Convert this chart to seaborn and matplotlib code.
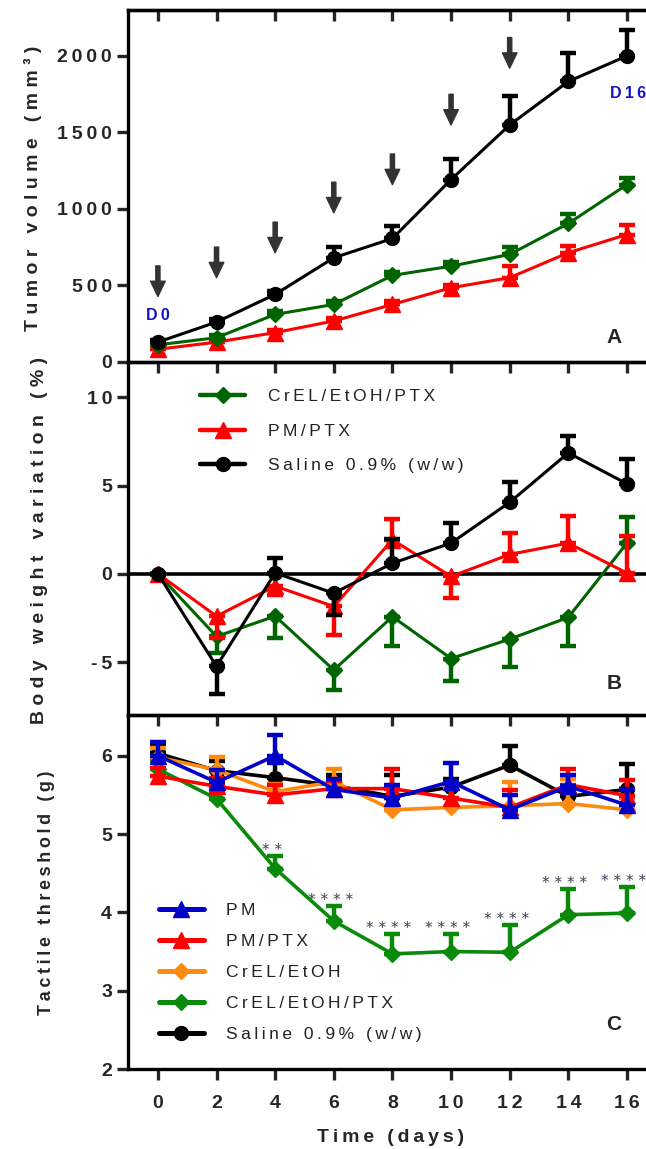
import numpy as np
import pandas as pd
import matplotlib
matplotlib.use("Agg")
import matplotlib.pyplot as plt
import seaborn as sns
from matplotlib.lines import Line2D

sns.set_style("ticks")
plt.rcParams["font.family"] = ["Liberation Sans", "DejaVu Sans"]

# ---------------- data ----------------
days = [0, 2, 4, 6, 8, 10, 12, 14, 16]
x_tick_labels = ["0", "2", "4", "6", "8", "10", "12", "14", "16"]

# Panel A: tumor volume (mm3), error bars upward
tv_crel_ptx = [112, 159, 311, 376, 566, 626, 703, 905, 1159]
tv_crel_ptx_err = [10, 15, 20, 20, 25, 25, 50, 60, 45]
tv_pm_ptx = [83, 130, 192, 268, 376, 485, 551, 714, 833]
tv_pm_ptx_err = [10, 15, 20, 20, 25, 20, 75, 43, 65]
tv_saline = [130, 261, 442, 681, 807, 1192, 1549, 1833, 2000]
tv_saline_err = [15, 20, 20, 72, 80, 135, 186, 185, 170]
dose_days = [0, 2, 4, 6, 8, 10, 12]
dose_arrow_tip = [428, 551, 714, 975, 1159, 1549, 1920]
a_yticks = [0, 500, 1000, 1500, 2000]

# Panel B: body weight variation (%), signed error (negative = drawn downward)
bw_crel_ptx = [0, -3.55, -2.4, -5.45, -2.43, -4.8, -3.7, -2.47, 1.74]
bw_crel_ptx_err = [0, -0.95, -1.25, -1.15, -1.67, -1.3, -1.6, -1.63, 1.46]
bw_pm_ptx = [0, -2.4, -0.7, -1.85, 1.93, -0.15, 1.1, 1.74, 0.04]
bw_pm_ptx_err = [0, -1.25, -0.5, -1.6, 1.15, -1.23, 1.23, 1.56, 2.1]
bw_saline = [0, -5.24, 0.05, -1.1, 0.6, 1.74, 4.05, 6.85, 5.1]
bw_saline_err = [0, -1.56, 0.85, -1.23, 1.4, 1.16, 1.15, 0.95, 1.4]
b_yticks = [-5, 0, 5, 10]

# Panel C: tactile threshold (g), error bars upward
tt_pm = [6.0, 5.66, 6.0, 5.57, 5.46, 5.67, 5.31, 5.61, 5.37]
tt_pm_err = [0.18, 0.16, 0.27, 0.13, 0.16, 0.24, 0.19, 0.15, 0.20]
tt_pm_ptx = [5.74, 5.61, 5.50, 5.58, 5.58, 5.46, 5.34, 5.63, 5.49]
tt_pm_ptx_err = [0.10, 0.10, 0.12, 0.10, 0.25, 0.21, 0.22, 0.20, 0.20]
tt_crel = [5.98, 5.82, 5.54, 5.67, 5.31, 5.34, 5.36, 5.39, 5.31]
tt_crel_err = [0.12, 0.17, 0.10, 0.16, 0.15, 0.25, 0.30, 0.31, 0.15]
tt_crel_ptx = [5.83, 5.45, 4.56, 3.89, 3.47, 3.50, 3.49, 3.97, 3.99]
tt_crel_ptx_err = [0.10, 0.10, 0.16, 0.19, 0.25, 0.22, 0.35, 0.33, 0.33]
tt_saline = [6.03, 5.81, 5.72, 5.62, 5.48, 5.60, 5.88, 5.48, 5.57]
tt_saline_err = [0.10, 0.12, 0.20, 0.14, 0.28, 0.10, 0.24, 0.10, 0.32]
tt_signif = ["", "", "**", "****", "****", "****", "****", "****", "****"]
c_yticks = [2, 3, 4, 5, 6]

lbl_crel_ptx = "CrEL/EtOH/PTX"
lbl_pm_ptx = "PM/PTX"
lbl_saline = "Saline 0.9% (w/w)"
lbl_pm = "PM"
lbl_crel = "CrEL/EtOH"

# ---------------- style ----------------
GREEN_A = "#006400"
GREEN_C = "#0a8a0a"
RED = "#ff0000"
BLACK = "#000000"
BLUE = "#0000c8"
ORANGE = "#ff8a10"
MS = {"o": 10, "^": 12, "D": 8.5}

TS = "\u2009"  # thin space used for letter tracking


def track(s, gap=TS):
    return gap.join(list(s))


def signed_to_yerr(e):
    lo = [-v if v < 0 else 0 for v in e]
    up = [v if v > 0 else 0 for v in e]
    return [lo, up]


def series(ax, y, err, color, marker, label, lw=2.2, z=3, signed=False):
    yerr = signed_to_yerr(err) if signed else [[0] * len(err), err]
    ax.errorbar(days, y, yerr=yerr, fmt="none", ecolor=color,
                elinewidth=3.2, capsize=5.5, capthick=3.2, zorder=z)
    sns.lineplot(x=days, y=y, ax=ax, color=color, marker=marker,
                 markersize=MS[marker], markeredgecolor=color,
                 markeredgewidth=1, linewidth=lw, label=label, zorder=z + 0.5,
                 legend=False)
    return Line2D([], [], color=color, marker=marker, markersize=MS[marker],
                  markeredgecolor=color, lw=lw + 1)


W, H = 646, 1149
fig = plt.figure(figsize=(W / 100, H / 100), dpi=100)
fig.patch.set_facecolor("white")

left = 128 / W
width = 1 - left


def box(top_px, bot_px):
    return [left, 1 - bot_px / H, width, (bot_px - top_px) / H]


axA = fig.add_axes(box(10, 362))
axB = fig.add_axes(box(362, 715))
axC = fig.add_axes(box(715, 1069))

XLIM = (-1.02, 16.65)
tick_font = dict(fontsize=14, fontweight="bold")

for ax in (axA, axB, axC):
    ax.set_facecolor("none")
    ax.set_xlim(*XLIM)
    for s in ("left", "top", "bottom"):
        ax.spines[s].set_linewidth(2.4)
        ax.spines[s].set_color("black")
    ax.spines["right"].set_visible(False)
    ax.set_xticks(days)
    ax.tick_params(axis="both", direction="out", length=8, width=2.4,
                   top=False, right=False)
    ax.set_xlabel("")
    ax.set_ylabel("")

# ---------- Panel A ----------
series(axA, tv_saline, tv_saline_err, BLACK, "o", lbl_saline, z=5)
series(axA, tv_crel_ptx, tv_crel_ptx_err, GREEN_A, "D", lbl_crel_ptx, z=4)
series(axA, tv_pm_ptx, tv_pm_ptx_err, RED, "^", lbl_pm_ptx, z=3)
axA.set_ylim(0, 2300)
axA.set_yticks(a_yticks)
axA.set_yticklabels([track(str(v)) for v in a_yticks], **tick_font)
axA.set_xticklabels([])
secA = axA.secondary_xaxis("top")
secA.set_xticks(days)
secA.tick_params(direction="in", length=8, width=2.4, labeltop=False)
secA.spines["top"].set_linewidth(2.4)
for d, tip in zip(dose_days, dose_arrow_tip):
    axA.annotate("", xy=(d, tip), xytext=(d, tip + 200),
                 arrowprops=dict(width=3, headwidth=10.5, headlength=11,
                                 facecolor="#333333", edgecolor="#333333",
                                 shrink=0))
axA.text(0, 305, track("D0"), color="#1414c8", fontsize=11.5,
         fontweight="bold", ha="center", va="center")
axA.text(16.05, 1752, track("D16"), color="#1414c8", fontsize=11.5,
         fontweight="bold", ha="center", va="center")
axA.text(0.938, 0.071, "A", transform=axA.transAxes, fontsize=15,
         fontweight="bold", ha="center", va="center")

# ---------- Panel B ----------
axB.axhline(0, color="black", lw=2.6, zorder=2)
hB_g = series(axB, bw_crel_ptx, bw_crel_ptx_err, GREEN_A, "D", lbl_crel_ptx, z=3, signed=True)
hB_r = series(axB, bw_pm_ptx, bw_pm_ptx_err, RED, "^", lbl_pm_ptx, z=4, signed=True)
hB_k = series(axB, bw_saline, bw_saline_err, BLACK, "o", lbl_saline, z=5, signed=True)
axB.set_ylim(-8, 12)
axB.set_yticks(b_yticks)
axB.set_yticklabels([track(str(v)) for v in b_yticks], **tick_font)
axB.set_xticklabels([])
legB = axB.legend([hB_g, hB_r, hB_k],
                  [track(lbl_crel_ptx), track(lbl_pm_ptx), track(lbl_saline)],
                  loc="upper left", bbox_to_anchor=(0.1255, 0.943), frameon=False,
                  fontsize=12.5, handlelength=2.6, handletextpad=1.3,
                  labelspacing=1.12, borderaxespad=0)
for t in legB.get_texts():
    t.set_color("#222222")
axB.text(0.938, 0.088, "B", transform=axB.transAxes, fontsize=15,
         fontweight="bold", ha="center", va="center")

# ---------- Panel C ----------
hC_k = series(axC, tt_saline, tt_saline_err, BLACK, "o", lbl_saline, lw=2.6, z=3)
hC_g = series(axC, tt_crel_ptx, tt_crel_ptx_err, GREEN_C, "D", lbl_crel_ptx, lw=2.6, z=4)
hC_o = series(axC, tt_crel, tt_crel_err, ORANGE, "D", lbl_crel, lw=2.6, z=5)
hC_r = series(axC, tt_pm_ptx, tt_pm_ptx_err, RED, "^", lbl_pm_ptx, lw=2.6, z=6)
hC_b = series(axC, tt_pm, tt_pm_err, BLUE, "^", lbl_pm, lw=2.6, z=7)
axC.set_ylim(2, 6.52)
axC.set_yticks(c_yticks)
axC.set_yticklabels([track(str(v)) for v in c_yticks], **tick_font)
axC.set_xticklabels([track(s) for s in x_tick_labels], **tick_font)
axC.tick_params(axis="x", pad=11)
for d, v, e, s in zip(days, tt_crel_ptx, tt_crel_ptx_err, tt_signif):
    if s:
        axC.text(d - 0.12, v + e + 0.07, " ".join(s), color="#3c3c50",
                 fontsize=11, family="DejaVu Sans", ha="center", va="center")
legC = axC.legend([hC_b, hC_r, hC_o, hC_g, hC_k],
                  [track(lbl_pm), track(lbl_pm_ptx), track(lbl_crel),
                   track(lbl_crel_ptx), track(lbl_saline)],
                  loc="upper left", bbox_to_anchor=(0.046, 0.489), frameon=False,
                  fontsize=12.5, handlelength=2.6, handletextpad=1.3,
                  labelspacing=0.91, borderaxespad=0)
for t in legC.get_texts():
    t.set_color("#222222")
axC.text(0.938, 0.127, "C", transform=axC.transAxes, fontsize=15,
         fontweight="bold", ha="center", va="center")

# ---------- axis titles ----------
fig.text(33 / W, 1 - 188 / H, "T u m o r   v o l u m e   ( m m ³ )",
         rotation=90, ha="center", va="center", fontsize=14, fontweight="bold")
fig.text(40 / W, 1 - 540 / H, "B o d y   w e i g h t   v a r i a t i o n   ( % )",
         rotation=90, ha="center", va="center", fontsize=14, fontweight="bold")
fig.text(47 / W, 1 - 893 / H, track("Tactile threshold (g)"),
         rotation=90, ha="center", va="center", fontsize=13, fontweight="bold")
fig.text(391 / W, 1 - 1138 / H, track("Time (days)"),
         ha="center", va="center", fontsize=14, fontweight="bold")

fig.savefig("out.png", dpi=100, facecolor="white")
